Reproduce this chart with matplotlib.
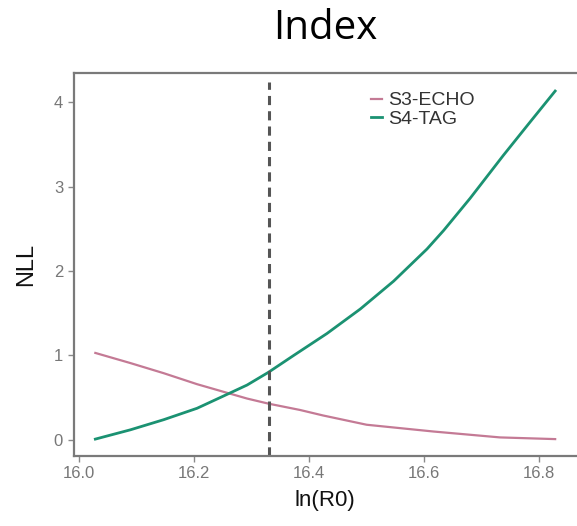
import matplotlib
matplotlib.use("Agg")
import matplotlib.pyplot as plt

# Data
x_echo = [16.028, 16.089, 16.147, 16.205, 16.251, 16.292, 16.329, 16.384, 16.424, 16.5, 16.616, 16.732, 16.828]
y_echo = [1.03, 0.91, 0.79, 0.66, 0.57, 0.49, 0.43, 0.355, 0.29, 0.18, 0.10, 0.03, 0.01]
x_tag = [16.028, 16.089, 16.147, 16.205, 16.251, 16.292, 16.329, 16.373, 16.431, 16.489,
         16.547, 16.605, 16.634, 16.68, 16.738, 16.784, 16.828]
y_tag = [0.01, 0.12, 0.24, 0.375, 0.52, 0.65, 0.80, 1.00, 1.26, 1.55,
         1.88, 2.26, 2.48, 2.86, 3.37, 3.76, 4.13]
vline_x = 16.33
xticks = [16.0, 16.2, 16.4, 16.6, 16.8]
yticks = [0, 1, 2, 3, 4]
series_names = ["S3-ECHO", "S4-TAG"]

plt.rcParams['font.family'] = ['Liberation Sans', 'DejaVu Sans']

fig = plt.figure(figsize=(5.77, 5.26), dpi=100)
ax = fig.add_axes([73.5/577, 1 - 456/526, 1 - 73.5/577, (456 - 73.3)/526])

ax.plot(x_echo, y_echo, color="#c47a95", lw=1.6, label=series_names[0])
ax.plot(x_tag, y_tag, color="#1b9272", lw=2.0, label=series_names[1])
ax.vlines(vline_x, -0.19, 4.24, colors="#555555", linestyles=(0, (3.0, 2.0)), lw=2.2)

ax.set_xlim(15.99, 16.866)
ax.set_ylim(-0.19, 4.34)
ax.set_xticks(xticks)
ax.set_xticklabels([f"{t:.1f}" for t in xticks])
ax.set_yticks(yticks)

for s in ["left", "bottom", "top"]:
    ax.spines[s].set_color("#7a7a7a")
    ax.spines[s].set_linewidth(1.6)
ax.spines["right"].set_visible(False)

ax.tick_params(axis="both", colors="#8a8a8a", labelcolor="#777777", labelsize=12,
               length=4, width=1, direction="out")
ax.set_xlabel("ln(R0)", fontsize=16, color="#111111", labelpad=6)
ax.set_ylabel("NLL", fontsize=17, color="#111111", labelpad=12)

leg = ax.legend(loc="upper left", bbox_to_anchor=(0.555, 1.0), frameon=False,
                fontsize=14, handlelength=0.55, handletextpad=0.3,
                labelspacing=0.05, borderaxespad=0.55)
for t in leg.get_texts():
    t.set_color("#333333")

fig.text(325/577, 1 - 29/526, "Index", ha="center", va="center",
         fontsize=29, family=["Open Sans", "DejaVu Sans"], color="#000000")

fig.savefig("out.png", dpi=100)
